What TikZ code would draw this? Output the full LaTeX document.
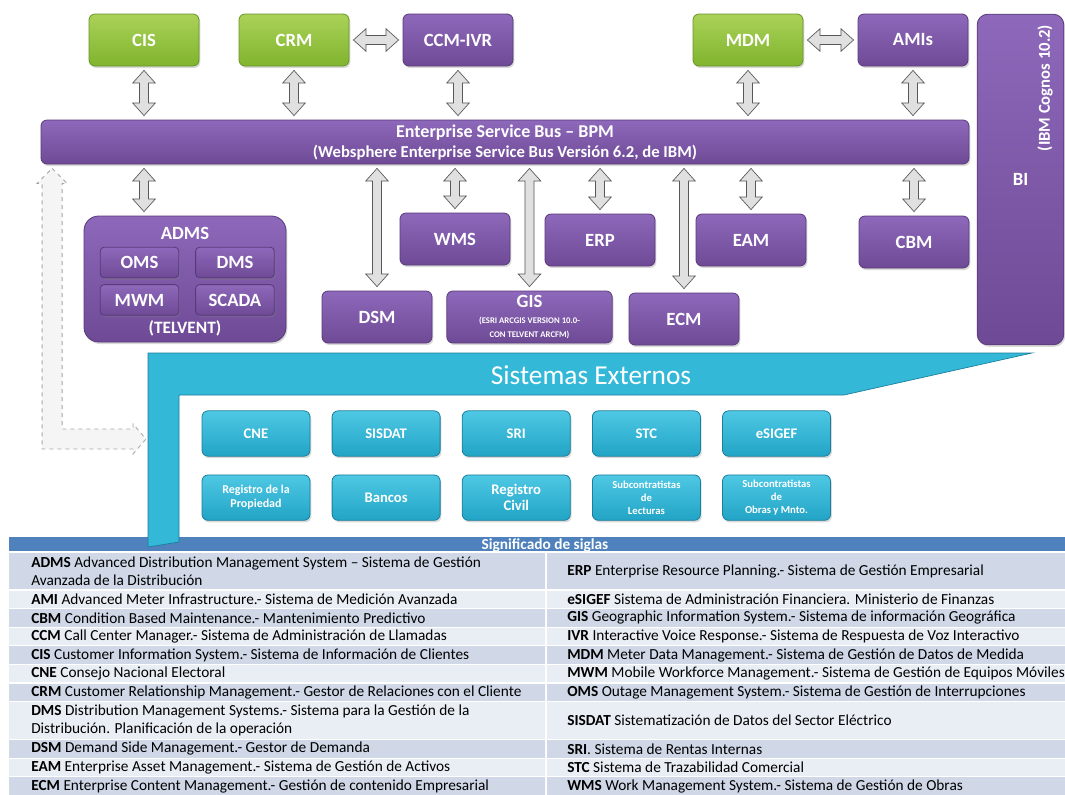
\documentclass[tikz,border=0pt]{standalone}
\usepackage{fontspec}
\setmainfont{Carlito}
\usetikzlibrary{calc, positioning, shadows}
\definecolor{violettop}{RGB}{142,104,186}
\definecolor{violetbot}{RGB}{110,74,150}
\definecolor{violetline}{RGB}{88,58,122}
\definecolor{limetop}{RGB}{170,210,88}
\definecolor{limebot}{RGB}{128,180,46}
\definecolor{limeline}{RGB}{104,148,40}
\definecolor{aquatop}{RGB}{78,200,228}
\definecolor{aquabot}{RGB}{34,164,198}
\definecolor{aqualine}{RGB}{26,126,156}
\definecolor{aquaband}{RGB}{52,184,216}
\definecolor{headblue}{RGB}{79,129,189}
\definecolor{banddark}{RGB}{208,216,232}
\definecolor{bandlight}{RGB}{233,237,244}
\definecolor{arrowfill}{RGB}{224,224,224}
\definecolor{arrowline}{RGB}{88,88,88}
\tikzset{
  box/.style={rectangle, rounded corners=4.5pt, draw, line width=0.6pt, text=white, align=center, inner sep=1pt,
    font=\bfseries\fontsize{14}{16}\selectfont, drop shadow={opacity=0.3, shadow xshift=1pt, shadow yshift=-1.5pt}},
  violet/.style={box, top color=violettop, bottom color=violetbot, draw=violetline},
  lime/.style={box, top color=limetop, bottom color=limebot, draw=limeline},
  tile/.style={minimum width=82.5pt, minimum height=39pt},
  app/.style={violet, tile},
  aqua/.style={box, top color=aquatop, bottom color=aquabot, draw=aqualine, minimum width=81pt, minimum height=34pt,
    font=\bfseries\fontsize{11}{12}\selectfont},
  caption/.style={text=white, font=\bfseries\fontsize{14}{16}\selectfont},
  entry/.style={anchor=west, align=left, inner sep=0pt, font=\fontsize{11.5}{13.5}\selectfont},
  biarrow/.style={draw=arrowline, fill=arrowfill, line width=0.5pt,
    to path={let \p1=($(\tikztostart)!3pt!(\tikztotarget)$),
                 \p2=($(\tikztotarget)!3pt!(\tikztostart)$),
                 \p3=($(\p1)!9.5pt!(\p2)$),
                 \p4=($(\p2)!9.5pt!(\p1)$) in
      (\p1) -- ($(\p3)!8.5pt!90:(\p2)$) -- ($(\p3)!3.4pt!90:(\p2)$)
      -- ($(\p4)!3.4pt!-90:(\p1)$) -- ($(\p4)!8.5pt!-90:(\p1)$) -- (\p2)
      -- ($(\p4)!8.5pt!90:(\p1)$) -- ($(\p4)!3.4pt!90:(\p1)$)
      -- ($(\p3)!3.4pt!-90:(\p2)$) -- ($(\p3)!8.5pt!-90:(\p2)$) -- cycle}},
  hollowarrow/.style={dashed, draw=gray!70, fill=gray!8, line width=0.6pt}
}
\begin{document}
\begin{tikzpicture}[x=0.75pt, y=-0.75pt]
\useasboundingbox (0,0) rectangle (1065,794);

\fill[headblue] (9,537) rectangle (1065,552);
\node[text=white, font=\bfseries\fontsize{11.5}{12}\selectfont] (tabhead) at (545,545) {Significado de siglas};
\foreach \ya/\yb/\band in {552/590/banddark, 590/608.6/bandlight, 608.6/627.2/banddark, 627.2/645.8/bandlight,
    645.8/664.4/banddark, 664.4/683/bandlight, 683/701.6/banddark, 701.6/739.6/bandlight, 739.6/758.2/banddark,
    758.2/776.8/bandlight, 776.8/796/banddark}
  {\fill[\band] (9,\ya) rectangle (545,\yb) (547,\ya) rectangle (1065,\yb);
   \draw[white, line width=0.8pt] (9,\ya) -- (1065,\ya);}

\node[entry] (ladms) at (31,571) {\textbf{ADMS} Advanced Distribution Management System – Sistema de Gestión\\Avanzada de la Distribución};
\node[entry] (lami) at (31,599.3) {\textbf{AMI} Advanced Meter Infrastructure.- Sistema de Medición Avanzada};
\node[entry] (lcbm) at (31,617.9) {\textbf{CBM} Condition Based Maintenance.- Mantenimiento Predictivo};
\node[entry] (lccm) at (31,636.5) {\textbf{CCM} Call Center Manager.- Sistema de Administración de Llamadas};
\node[entry] (lcis) at (31,655.1) {\textbf{CIS} Customer Information System.- Sistema de Información de Clientes};
\node[entry] (lcne) at (31,673.7) {\textbf{CNE} Consejo Nacional Electoral};
\node[entry] (lcrm) at (31,692.3) {\textbf{CRM} Customer Relationship Management.- Gestor de Relaciones con el Cliente};
\node[entry] (ldms) at (31,720.6) {\textbf{DMS} Distribution Management Systems.- Sistema para la Gestión de la\\Distribución. Planificación de la operación};
\node[entry] (ldsm) at (31,748.9) {\textbf{DSM} Demand Side Management.- Gestor de Demanda};
\node[entry] (leam) at (31,767.5) {\textbf{EAM} Enterprise Asset Management.- Sistema de Gestión de Activos};
\node[entry] (lecm) at (31,786) {\textbf{ECM} Enterprise Content Management.- Gestión de contenido Empresarial};

\node[entry] (rerp) at (567,571) {\textbf{ERP} Enterprise Resource Planning.- Sistema de Gestión Empresarial};
\node[entry] (resigef) at (567,599.3) {\textbf{eSIGEF} Sistema de Administración Financiera. Ministerio de Finanzas};
\node[entry] (rgis) at (567,617.9) {\textbf{GIS} Geographic Information System.- Sistema de información Geográfica};
\node[entry] (rivr) at (567,636.5) {\textbf{IVR} Interactive Voice Response.- Sistema de Respuesta de Voz Interactivo};
\node[entry] (rmdm) at (567,655.1) {\textbf{MDM} Meter Data Management.- Sistema de Gestión de Datos de Medida};
\node[entry] (rmwm) at (567,673.7) {\textbf{MWM} Mobile Workforce Management.- Sistema de Gestión de Equipos Móviles};
\node[entry] (roms) at (567,692.3) {\textbf{OMS} Outage Management System.- Sistema de Gestión de Interrupciones};
\node[entry] (rsisdat) at (567,720.6) {\textbf{SISDAT} Sistematización de Datos del Sector Eléctrico};
\node[entry] (rsri) at (567,748.9) {\textbf{SRI}. Sistema de Rentas Internas};
\node[entry] (rstc) at (567,767.5) {\textbf{STC} Sistema de Trazabilidad Comercial};
\node[entry] (rwms) at (567,786) {\textbf{WMS} Work Management System.- Sistema de Gestión de Obras};

\draw[fill=aquaband, draw=aqualine, line width=0.5pt] (148,353) -- (1032,353) -- (844,395) -- (179,395) -- (179,542) -- (148,547) -- cycle;
\node[text=white, font=\fontsize{20.5}{22}\selectfont] (extitle) at (591,375) {Sistemas Externos};

\node[aqua] (cne) at (256,433.5) {CNE};
\node[aqua, right=16pt of cne] (sisdat) {SISDAT};
\node[aqua, right=16pt of sisdat] (sri) {SRI};
\node[aqua, right=16pt of sri] (stc) {STC};
\node[aqua, right=16pt of stc] (esigef) {eSIGEF};
\node[aqua, below=13.5pt of cne, font=\bfseries\fontsize{9}{10.5}\selectfont] (propiedad) {Registro de la\\Propiedad};
\node[aqua, below=13.5pt of sisdat] (bancos) {Bancos};
\node[aqua, below=13.5pt of sri] (civil) {Registro\\Civil};
\node[aqua, below=13.5pt of stc, font=\bfseries\fontsize{8}{9.5}\selectfont] (lecturas) {Subcontratistas\\de\\Lecturas};
\node[aqua, below=13.5pt of esigef, font=\bfseries\fontsize{8}{9.5}\selectfont] (obras) {Subcontratistas\\de\\Obras y Mnto.};

\node[lime, tile] (cis) at (144,40) {CIS};
\node[lime, tile] (crm) at (294,40) {CRM};
\node[app] (ccm) at (458,40) {CCM-IVR};
\node[lime, tile] (mdm) at (748,40) {MDM};
\node[app] (ami) at (913,40) {AMIs};

\node[violet, minimum width=65pt, minimum height=248pt, rounded corners=8pt] (bi) at (1020.5,179.5) {BI};
\node[rotate=90, caption, font=\bfseries\fontsize{12.5}{14}\selectfont] (cognos) at (1045,88) {(IBM Cognos 10.2)};

\node[violet, minimum width=696pt, minimum height=33pt, font=\bfseries\fontsize{13.5}{15}\selectfont] (esb) at (505,142)
  {Enterprise Service Bus – BPM\\\fontsize{12.5}{14}\selectfont (Websphere Enterprise Service Bus Versión 6.2, de IBM)};

\node[violet, minimum width=151.5pt, minimum height=94.5pt, rounded corners=11pt] (adms) at (185,279) {};
\node[caption] (admstitle) at (185,233) {ADMS};
\node[violet, minimum width=59pt, minimum height=23pt, rounded corners=3pt] (oms) at (139.5,262.5) {OMS};
\node[violet, minimum width=59pt, minimum height=23pt, rounded corners=3pt, right=12pt of oms] (dms) {DMS};
\node[violet, minimum width=59pt, minimum height=23pt, rounded corners=3pt, below=4.5pt of oms] (mwm) {MWM};
\node[violet, minimum width=59pt, minimum height=23pt, rounded corners=3pt, below=4.5pt of dms] (scada) {SCADA};
\node[caption, font=\bfseries\fontsize{13}{14}\selectfont] (telvent) at (185,328) {(TELVENT)};

\node[app] (wms) at (455,239) {WMS};
\node[app] (erp) at (600,240) {ERP};
\node[app] (eam) at (751,240) {EAM};
\node[app] (cbm) at (914,242) {CBM};
\node[app] (dsm) at (377,317) {DSM};
\node[app, minimum width=124pt] (gis) at (529.5,317)
  {GIS\\[-4pt]{\fontsize{6.5}{8}\selectfont (ESRI ARCGIS VERSION 10.0-}\\[-6pt]{\fontsize{6.5}{8}\selectfont CON TELVENT ARCFM)}};
\node[app] (ecm) at (684,319) {ECM};

\draw[biarrow] (cis.south) to (esb.north -| cis);
\draw[biarrow] (crm.south) to (esb.north -| crm);
\draw[biarrow] (ccm.south) to (esb.north -| ccm);
\draw[biarrow] (mdm.south) to (esb.north -| mdm);
\draw[biarrow] (ami.south) to (esb.north -| ami);
\draw[biarrow] (crm.east) to (ccm.west);
\draw[biarrow] (mdm.east) to (ami.west);
\draw[biarrow] (esb.south -| cis) to (adms.north -| cis);
\draw[biarrow] (esb.south -| dsm) to (dsm.north);
\draw[biarrow] (esb.south -| wms) to (wms.north);
\draw[biarrow] (esb.south -| gis) to (gis.north);
\draw[biarrow] (esb.south -| erp) to (erp.north);
\draw[biarrow] (esb.south -| ecm) to (ecm.north);
\draw[biarrow] (esb.south -| eam) to (eam.north);
\draw[biarrow] (esb.south -| cbm) to (cbm.north);

\coordinate (busdrop) at ($(esb.south west)+(11.5,4)$);
\coordinate (extin) at (146,439);
\draw[hollowarrow] (busdrop) -- ++(15,15) -- ++(-5,0) |- ($(extin)+(-13,-10)$) -- ++(0,-5) -- (extin)
  -- ++(-13,15) -- ++(0,-5) -| ($(busdrop)+(-10,15)$) -- ++(-5,0) -- cycle;
\end{tikzpicture}
\end{document}
